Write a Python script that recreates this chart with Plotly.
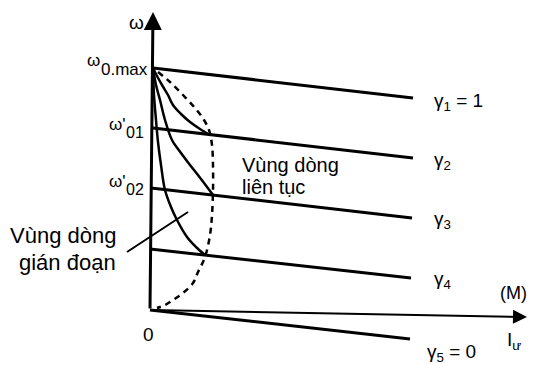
import plotly.graph_objects as go

# ---- data (diagram units: M = torque axis, w = speed axis) ----
gamma_labels = ["γ<sub>1</sub> = 1", "γ<sub>2</sub>", "γ<sub>3</sub>", "γ<sub>4</sub>", "γ<sub>5</sub> = 0"]
line_M_start = [3, 3, 1, 0, 0]
line_w_start = [242, 182, 122, 61, 0]
line_M_end = [263, 263, 262, 261, 260]
line_w_end = [212, 152, 92, 32, -29]
label_M = [282, 282, 282, 282, 275]
label_w = [208, 149, 90, 30, -43]

curveA_M = [3, 7, 12, 18, 23, 31, 40, 50, 60]
curveA_w = [242, 234, 225, 215, 205, 196, 188, 181, 175]
curveB_M = [3, 6, 10, 15, 22, 31, 40, 51, 63]
curveB_w = [242, 225, 210, 190, 170, 157, 145, 131, 115]
curveC_M = [3, 4, 6, 8, 11, 15, 21, 27, 37, 46, 55]
curveC_w = [242, 215, 190, 168, 145, 120, 103, 90, 73, 63, 55]

dash_M = [8, 20, 33, 45, 54, 59, 62, 63, 63, 62, 60, 55, 48, 43, 33, 23, 15, 7]
dash_w = [238, 228, 215, 202, 190, 180, 165, 145, 120, 95, 75, 53, 38, 27, 17, 10, 5, 2]

leader_M = [-23, 38]
leader_w = [58, 98]

FONT = "Liberation Sans, Arial, sans-serif"
BLACK = "black"

fig = go.Figure()

for i in range(len(gamma_labels)):
    fig.add_trace(go.Scatter(x=[line_M_start[i], line_M_end[i]], y=[line_w_start[i], line_w_end[i]],
                             mode="lines", line=dict(color=BLACK, width=3), showlegend=False, hoverinfo="skip"))

for xs, ys in [(curveA_M, curveA_w), (curveB_M, curveB_w), (curveC_M, curveC_w)]:
    fig.add_trace(go.Scatter(x=xs, y=ys, mode="lines", line=dict(color=BLACK, width=2.5, shape="spline"),
                             showlegend=False, hoverinfo="skip"))

fig.add_trace(go.Scatter(x=dash_M, y=dash_w, mode="lines",
                         line=dict(color=BLACK, width=2.5, dash="6px,5px", shape="spline"),
                         showlegend=False, hoverinfo="skip"))

fig.add_trace(go.Scatter(x=leader_M, y=leader_w, mode="lines", line=dict(color=BLACK, width=2),
                         showlegend=False, hoverinfo="skip"))

# axes as arrows
fig.add_annotation(x=3, y=298, ax=0, ay=0, xref="x", yref="y", axref="x", ayref="y",
                   showarrow=True, arrowhead=2, arrowsize=1.2, arrowwidth=3, arrowcolor=BLACK, text="", standoff=0)
fig.add_annotation(x=377, y=-7, ax=0, ay=0, xref="x", yref="y", axref="x", ayref="y",
                   showarrow=True, arrowhead=2, arrowsize=1.4, arrowwidth=2, arrowcolor=BLACK, text="", standoff=0)

def txt(x, y, s, size, xanchor="center"):
    fig.add_annotation(x=x, y=y, xref="x", yref="y", text=s, showarrow=False, xanchor=xanchor,
                       yanchor="middle", font=dict(family=FONT, size=size, color=BLACK))

for i, lab in enumerate(gamma_labels):
    txt(label_M[i], label_w[i], lab, 19, "left")

txt(-14, 288, "ω", 19)
txt(-57, 250, "ω", 17)
txt(-26, 241, "0.max", 17)
txt(-33, 186, "ω'", 17)
txt(-15, 178, "01", 16)
txt(-33, 129, "ω'", 17)
txt(-15, 121, "02", 16)
txt(-2, -24, "0", 19)
txt(363, 17, "(M)", 18)
txt(364, -31, "I<sub>ư</sub>", 19)
txt(90, 145, "Vùng dòng", 20, "left")
txt(90, 123, "liên tục", 20, "left")
txt(-32, 75, "Vùng dòng", 22, "right")
txt(-32, 48, "gián đoạn", 22, "right")

# page body has an 8px margin: figure is 529x357 placed at (8, 8)
fig.update_layout(
    width=529, height=357, margin=dict(l=0, r=0, t=0, b=0),
    paper_bgcolor="white", plot_bgcolor="white",
    xaxis=dict(range=[-142, 387], visible=False, fixedrange=True),
    yaxis=dict(range=[-55, 302], visible=False, fixedrange=True),
    showlegend=False,
)
fig.write_html("out.html")
